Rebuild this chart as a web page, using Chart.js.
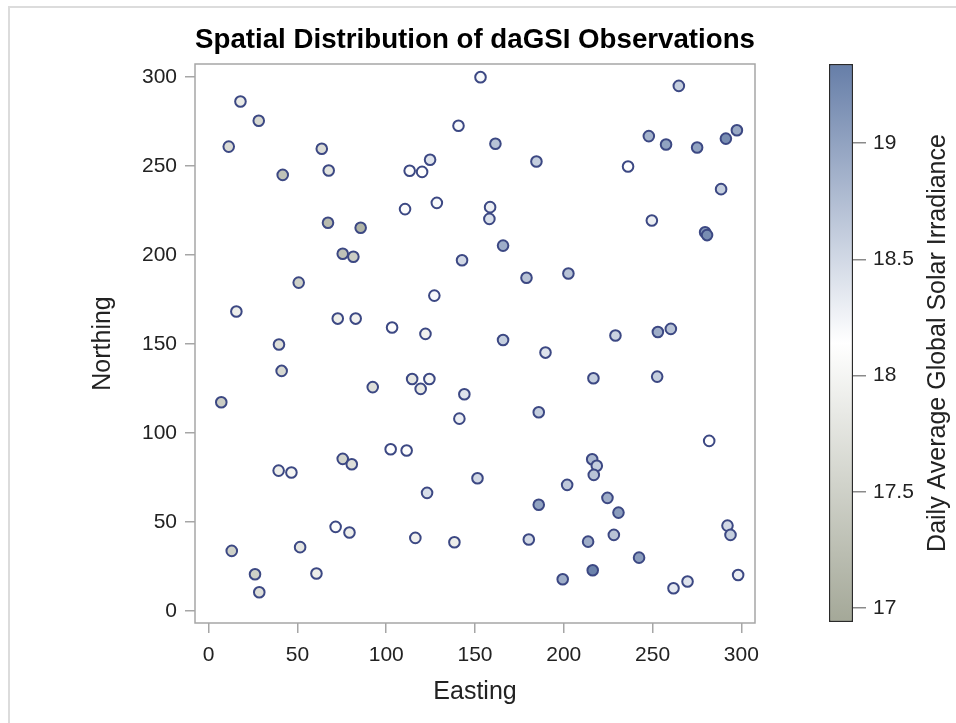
<!DOCTYPE html>
<html>
<head>
<meta charset="utf-8">
<title>Spatial Distribution of daGSI Observations</title>
<script src="https://cdn.jsdelivr.net/npm/chart.js@4.4.1/dist/chart.umd.min.js"></script>
<style>
  html, body { margin: 0; padding: 0; background: #fff; overflow: hidden; }
  body { width: 956px; height: 723px; position: relative; }
  .page-frame { position: absolute; left: 8px; top: 6px; width: 1000px; height: 800px; border: 2px solid #dcdcdc; box-sizing: border-box; }
  #scatterWrap { position: absolute; left: 0; top: 0; width: 800px; height: 723px; }
  #legendWrap { position: absolute; left: 800px; top: 0; width: 156px; height: 723px; }
</style>
</head>
<body>
<div class="page-frame"></div>
<div id="scatterWrap"><canvas id="scatter"></canvas></div>
<div id="legendWrap"><canvas id="colorbar"></canvas></div>

<script>
// observations: easting, northing, daily average GSI
const easting = [
  153.1, 264.8, 17.9, 28.2, 11.3, 63.7, 41.7, 67.6, 140.7, 113.2,
  120.2, 124.7, 110.6, 128.5, 67.2, 85.6, 75.5, 81.5, 142.7, 50.7,
  127.1, 15.6, 72.7, 82.8, 103.3, 122.1, 39.6, 41.1, 7.1, 92.4,
  114.6, 124.3, 119.4, 144.0, 141.2, 102.5, 111.5, 39.4, 46.6, 75.5,
  80.6, 123.0, 151.4, 71.5, 79.3, 13.0, 51.5, 116.4, 138.4, 26.1,
  28.5, 60.7, 161.5, 184.6, 236.2, 247.9, 257.6, 275.1, 291.3, 297.5,
  288.6, 158.5, 158.1, 249.6, 279.6, 280.7, 165.8, 179.0, 202.6, 165.8,
  229.1, 253.0, 260.3, 189.7, 216.7, 252.6, 185.9, 281.9, 216.0, 218.6,
  216.9, 201.9, 185.9, 224.6, 230.8, 180.3, 213.7, 228.2, 292.2, 293.9,
  242.4, 216.3, 199.4, 261.8, 269.7, 298.2
];
const northing = [
  299.8, 294.9, 286.1, 275.3, 260.8, 259.6, 244.9, 247.4, 272.5, 247.2,
  246.6, 253.4, 225.7, 229.2, 218.0, 215.2, 200.6, 198.9, 197.0, 184.4,
  177.1, 168.2, 164.2, 164.2, 159.2, 155.6, 149.6, 134.8, 117.2, 125.7,
  130.3, 130.3, 124.7, 121.7, 108.0, 90.8, 90.1, 78.8, 77.7, 85.4,
  82.4, 66.3, 74.5, 47.2, 44.0, 33.7, 35.8, 41.0, 38.6, 20.6,
  10.5, 21.0, 262.4, 252.4, 249.6, 266.7, 262.0, 260.3, 265.3, 270.0,
  236.9, 226.8, 220.2, 219.3, 212.7, 211.1, 205.2, 187.1, 189.5, 152.2,
  154.7, 156.7, 158.4, 145.1, 130.7, 131.6, 111.6, 95.5, 85.2, 81.5,
  76.4, 70.8, 59.6, 63.5, 55.2, 40.1, 38.9, 42.7, 47.9, 42.7,
  29.9, 22.8, 17.8, 12.7, 16.5, 20.2
];
const dagsi = [
  18.2, 18.6, 17.85, 17.6, 17.65, 17.65, 17.3, 17.75, 18.2, 18.1,
  18.15, 18.4, 18.1, 18.2, 17.2, 17.1, 17.3, 17.45, 18.5, 17.5,
  18.2, 17.9, 17.9, 17.95, 18.1, 17.95, 17.7, 17.6, 17.45, 17.7,
  17.8, 18.0, 17.85, 18.4, 18.3, 18.15, 18.1, 17.9, 18.0, 17.55,
  17.7, 18.45, 18.5, 18.1, 17.9, 17.5, 17.8, 17.95, 17.9, 17.5,
  17.7, 17.9, 18.7, 18.6, 18.15, 18.85, 19.0, 19.0, 19.2, 18.95,
  18.6, 18.3, 18.45, 18.3, 19.1, 19.2, 18.9, 18.7, 18.7, 18.6,
  18.55, 18.9, 18.7, 18.4, 18.6, 18.6, 18.6, 18.15, 18.8, 18.6,
  18.7, 18.65, 19.0, 18.9, 19.05, 18.5, 18.9, 18.7, 18.5, 18.6,
  19.05, 19.3, 18.9, 18.35, 18.4, 18.3
];

const axisTicks = [0, 50, 100, 150, 200, 250, 300];
const legendTicks = [17, 17.5, 18, 18.5, 19];
const legendMin = 16.94;
const legendMax = 19.34;

const FONT = '"Liberation Sans", Arial, Helvetica, sans-serif';
const RAMP_LOW = [164, 168, 152];
const RAMP_MID = [255, 255, 255];
const RAMP_HIGH = [102, 126, 168];

function mix(a, b, t) {
  return a.map((c, i) => Math.round(c + (b[i] - c) * t));
}

// three colour ramp: grey-green -> white -> blue
function rampColor(v) {
  let t = (v - legendMin) / (legendMax - legendMin);
  t = Math.max(0, Math.min(1, t));
  const c = t < 0.5 ? mix(RAMP_LOW, RAMP_MID, t * 2) : mix(RAMP_MID, RAMP_HIGH, (t - 0.5) * 2);
  return `rgb(${c[0]}, ${c[1]}, ${c[2]})`;
}

const fixTicks = list => scale => { scale.ticks = list.map(v => ({ value: v })); };
const noScalePadding = s => { s.paddingTop = 0; s.paddingBottom = 0; s.paddingLeft = 0; s.paddingRight = 0; };

// box around the plot area
const plotFrame = {
  id: 'plotFrame',
  beforeDatasetsDraw(chart) {
    const { ctx, chartArea: a } = chart;
    ctx.save();
    ctx.strokeStyle = '#a6a6a6';
    ctx.lineWidth = 1.5;
    ctx.strokeRect(a.left, a.top, a.right - a.left, a.bottom - a.top);
    ctx.restore();
  }
};

new Chart(document.getElementById('scatter'), {
  type: 'scatter',
  data: {
    datasets: [{
      data: easting.map((x, i) => ({ x: x, y: northing[i] })),
      backgroundColor: ctx => rampColor(dagsi[ctx.dataIndex]),
      borderColor: '#3c4883',
      borderWidth: 2,
      pointRadius: 5.3,
      pointHoverRadius: 5.3
    }]
  },
  options: {
    responsive: true,
    maintainAspectRatio: false,
    animation: false,
    devicePixelRatio: 1,
    layout: { padding: { left: 88, right: 45, top: 0, bottom: 16 } },
    plugins: {
      legend: { display: false },
      tooltip: { enabled: false },
      title: {
        display: true,
        text: 'Spatial Distribution of daGSI Observations',
        fullSize: false,
        color: '#000',
        font: { family: FONT, size: 28, weight: 'bold' },
        padding: { top: 23, bottom: 7.4 }
      }
    },
    scales: {
      x: {
        type: 'linear',
        min: -7.7,
        max: 307.7,
        afterBuildTicks: fixTicks(axisTicks),
        afterFit: s => { s.height = 84; noScalePadding(s); },
        border: { display: false },
        grid: { drawOnChartArea: false, tickLength: 10, color: '#a6a6a6', lineWidth: 1.5 },
        ticks: { color: '#222', padding: 10, maxRotation: 0, font: { family: FONT, size: 21 } },
        title: { display: true, text: 'Easting', color: '#222', padding: 0, font: { family: FONT, size: 25 } }
      },
      y: {
        type: 'linear',
        min: -6.8,
        max: 307.2,
        afterBuildTicks: fixTicks(axisTicks),
        afterFit: s => { s.width = 107; noScalePadding(s); },
        border: { display: false },
        grid: { drawOnChartArea: false, tickLength: 10, color: '#a6a6a6', lineWidth: 1.5 },
        ticks: { color: '#222', padding: 8, font: { family: FONT, size: 21 } },
        title: { display: true, text: 'Northing', color: '#222', padding: 0, font: { family: FONT, size: 25 } }
      }
    }
  },
  plugins: [plotFrame]
});

// colour legend title, reads bottom to top
const legendTitle = {
  id: 'legendTitle',
  afterDraw(chart) {
    const { ctx, chartArea: a } = chart;
    ctx.save();
    ctx.translate(a.right + 85, (a.top + a.bottom) / 2);
    ctx.rotate(-Math.PI / 2);
    ctx.font = `25px ${FONT}`;
    ctx.fillStyle = '#222';
    ctx.textAlign = 'center';
    ctx.textBaseline = 'middle';
    ctx.fillText('Daily Average Global Solar Irradiance', 0, 0);
    ctx.restore();
  }
};

new Chart(document.getElementById('colorbar'), {
  type: 'bar',
  data: {
    labels: [''],
    datasets: [{
      data: [[legendMin, legendMax]],
      backgroundColor: ctx => {
        const a = ctx.chart.chartArea;
        if (!a) return '#fff';
        const g = ctx.chart.ctx.createLinearGradient(0, a.bottom, 0, a.top);
        g.addColorStop(0, rampColor(legendMin));
        g.addColorStop(0.5, rampColor((legendMin + legendMax) / 2));
        g.addColorStop(1, rampColor(legendMax));
        return g;
      },
      borderColor: '#2a2a2a',
      borderWidth: 1.5,
      borderSkipped: false,
      categoryPercentage: 1,
      barPercentage: 1
    }]
  },
  options: {
    responsive: true,
    maintainAspectRatio: false,
    animation: false,
    devicePixelRatio: 1,
    layout: { padding: { left: 29, right: 0, top: 64, bottom: 101 } },
    plugins: { legend: { display: false }, tooltip: { enabled: false } },
    scales: {
      x: { display: false },
      y: {
        position: 'right',
        min: legendMin,
        max: legendMax,
        afterBuildTicks: fixTicks(legendTicks),
        afterFit: s => { s.width = 103; noScalePadding(s); },
        border: { display: false },
        grid: { drawOnChartArea: false, tickLength: 13, color: '#8a8a8a', lineWidth: 1.5 },
        ticks: { color: '#222', padding: 7, font: { family: FONT, size: 21 }, callback: v => String(v) }
      }
    }
  },
  plugins: [legendTitle]
});
</script>
</body>
</html>
